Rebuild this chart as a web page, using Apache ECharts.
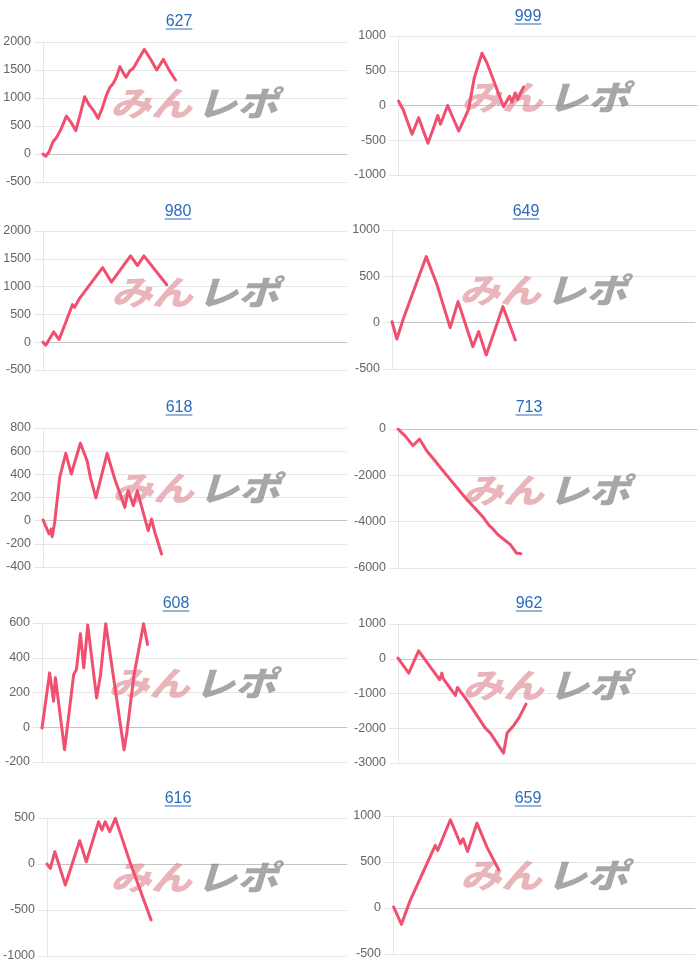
<!DOCTYPE html>
<html>
<head>
<meta charset="utf-8">
<script src="https://cdn.jsdelivr.net/npm/echarts@6/dist/echarts.min.js"></script>
<style>
  html, body { margin: 0; padding: 0; background: #fff; }
  #chart { width: 700px; height: 968px; }
</style>
</head>
<body>
<div id="chart"></div>
<script>
// ---- Data (x = position along the game axis, 0..100; y = balance) ----
const titles = ['627', '999', '980', '649', '618', '713', '608', '962', '616', '659'];
const yMins  = [-500, -1000, -500, -500, -400, -6000, -200, -3000, -1000, -500];
const yMaxs  = [2000, 1000, 2000, 1000, 800, 0, 600, 1000, 500, 1000];
const ySteps = [500, 500, 500, 500, 200, 2000, 200, 1000, 500, 500];

const s627 = [[0,0],[0.9,-40],[2,40],[3.3,220],[4.5,300],[5.5,400],[6.2,480],[7.7,678],[9.3,560],[10.8,417],[12.3,720],[13.7,1024],[15.2,875],[16.6,780],[18.1,637],[19.5,820],[20.9,1054],[22,1190],[23.1,1260],[24.2,1380],[25.3,1560],[26.3,1460],[27.3,1369],[28.6,1488],[29.7,1530],[31.5,1700],[33.3,1868],[35.3,1700],[37.4,1500],[39.6,1690],[41.8,1470],[43.6,1321]];
const s999 = [[0.2,62],[1.7,-57],[4.7,-414],[6.9,-176],[10,-543],[11.9,-319],[13.3,-143],[14.2,-271],[16.6,0],[20.3,-367],[23.6,-57],[25.5,395],[28.1,752],[29.8,609],[35.3,-19],[37.3,133],[38.1,48],[39.2,181],[40,86],[42,267]];
const s980 = [[0,0],[0.9,-54],[3.5,185],[5.3,48],[9.7,675],[10.4,627],[12.1,794],[19.6,1343],[22.5,1081],[28.8,1552],[31.1,1379],[33.2,1552],[40.7,1033]];
const s649 = [[0,11],[1.6,-176],[3.8,47],[11.3,713],[14.8,414],[19.2,-54],[21.8,227],[26.7,-259],[28.6,-97],[31.1,-349],[36.6,173],[40.7,-187]];
const s618 = [[0,6],[2,-115],[2.7,-72],[3,-138],[3.8,-23],[5.5,374],[7.5,581],[9.3,403],[12.3,668],[14.5,518],[15.6,374],[17.4,196],[21.1,581],[23.6,360],[26.9,115],[28,259],[29.7,130],[31,259],[34.6,-86],[35.7,14],[36.8,-101],[39,-288]];
const s713 = [[0,0],[2.5,-317],[5,-720],[7.2,-432],[9.7,-964],[11.9,-1295],[14.7,-1750],[17.5,-2187],[20.3,-2620],[23.1,-3051],[25.9,-3440],[28.7,-3842],[30.4,-4150],[32,-4346],[33.4,-4560],[34.8,-4706],[37.6,-4994],[39.6,-5353],[41.1,-5382]];
const s608 = [[0,-4],[2.5,313],[3.8,150],[4.4,285],[7.4,-129],[10.4,304],[11.3,333],[12.6,538],[13.7,342],[15,588],[17.9,169],[19.2,304],[20.9,596],[26.9,-129],[27.8,-33],[30.2,304],[33.3,596],[34.6,477]];
const s962 = [[0,19],[3.6,-412],[6.9,230],[13.9,-604],[14.7,-412],[15,-556],[19.2,-1055],[19.9,-825],[23.3,-1228],[29.2,-1995],[30.9,-2139],[35.3,-2714],[36.5,-2139],[38.7,-1918],[40.4,-1707],[42.8,-1304]];
const s616 = [[0,0],[1.1,-47],[2.6,134],[6.1,-228],[10.9,253],[13.1,25],[17.2,460],[18.3,369],[19.4,460],[20.9,351],[22.8,496],[27.8,7],[34.7,-608]];
const s659 = [[0.2,11],[2.8,-177],[5.7,83],[14,681],[14.8,626],[19,959],[22.3,699],[23.2,753],[24.7,615],[27.8,923],[31.1,662],[35,416]];
const seriesData = [s627, s999, s980, s649, s618, s713, s608, s962, s616, s659];

// ---- Layout ----
const grids = [
  {left: 43,  top: 42,  width: 304, height: 140},
  {left: 398, top: 36,  width: 299, height: 139},
  {left: 43,  top: 231, width: 304, height: 139},
  {left: 392, top: 230, width: 303, height: 139},
  {left: 43,  top: 428, width: 304, height: 139},
  {left: 398, top: 429, width: 299, height: 139},
  {left: 42,  top: 623, width: 305, height: 139},
  {left: 398, top: 624, width: 299, height: 139},
  {left: 47,  top: 818, width: 300, height: 138},
  {left: 393, top: 816, width: 302, height: 138}
];
const titlePos = [[179,22],[528,17],[178,212],[526,212],[179,408],[529,408],[176,604],[529,604],[178,799],[528,799]];
const markPos  = [[195,103],[546,97],[196,292],[544,290],[197,488],[547,490],[193,683],[547,685],[195,877],[545,875]];

const LINE = '#f04f6f';
const TITLE = '#2b6cb8';
const FONT = "Arial, 'Liberation Sans', Helvetica, sans-serif";

const option = {
  animation: false,
  backgroundColor: '#fff',
  grid: grids.map(g => Object.assign({containLabel: false}, g)),
  xAxis: grids.map((g, i) => ({
    type: 'value', gridIndex: i, min: 0, max: 100,
    axisLabel: {show: false}, axisTick: {show: false}, splitLine: {show: false},
    axisLine: {show: true, onZero: true, lineStyle: {color: '#c4c4c4', width: 1}}
  })),
  yAxis: grids.map((g, i) => ({
    type: 'value', gridIndex: i, min: yMins[i], max: yMaxs[i], interval: ySteps[i],
    axisLine: {show: true, lineStyle: {color: '#e6e6e6'}},
    axisTick: {show: true, length: 9, lineStyle: {color: '#e6e6e6'}},
    axisLabel: {color: '#666', fontSize: 12.5, fontFamily: FONT, margin: 12, formatter: v => String(v)},
    splitLine: {show: true, lineStyle: {color: '#e6e6e6', width: 1}}
  })),
  series: seriesData.map((d, i) => ({
    type: 'line', xAxisIndex: i, yAxisIndex: i, data: d,
    showSymbol: false, symbol: 'none', smooth: false, z: 5,
    lineStyle: {color: LINE, width: 3, join: 'round', cap: 'round'}
  })),
  graphic: []
};

titles.forEach((t, i) => {
  const [cx, cy] = titlePos[i];
  const w = t.length * 8.9;
  option.graphic.push({
    type: 'text', x: cx, y: cy, z: 10,
    style: {text: t, fill: TITLE, font: "16px " + FONT, textAlign: 'center', textVerticalAlign: 'middle'}
  });
  option.graphic.push({
    type: 'rect', z: 10, shape: {x: cx - w / 2, y: cy + 6.5, width: w, height: 1}, style: {fill: TITLE}
  });
  const [mx, my] = markPos[i];
  option.graphic.push({
    type: 'group', x: mx, y: my, z: 1, silent: true,
    children: [
      {type: 'text', x: -44, y: 0, scaleX: 1.2, z: 1,
       style: {text: 'みん', fill: 'rgba(222,140,150,0.65)', font: "italic 900 34px 'Noto Sans CJK JP'", textAlign: 'center', textVerticalAlign: 'middle'}},
      {type: 'text', x: 42, y: 0, scaleX: 1.2, z: 1,
       style: {text: 'レポ', fill: 'rgba(130,130,130,0.7)', font: "italic 900 34px 'Noto Sans CJK JP'", textAlign: 'center', textVerticalAlign: 'middle'}}
    ]
  });
});

const chart = echarts.init(document.getElementById('chart'), null, {renderer: 'canvas'});
chart.setOption(option);
</script>
</body>
</html>
